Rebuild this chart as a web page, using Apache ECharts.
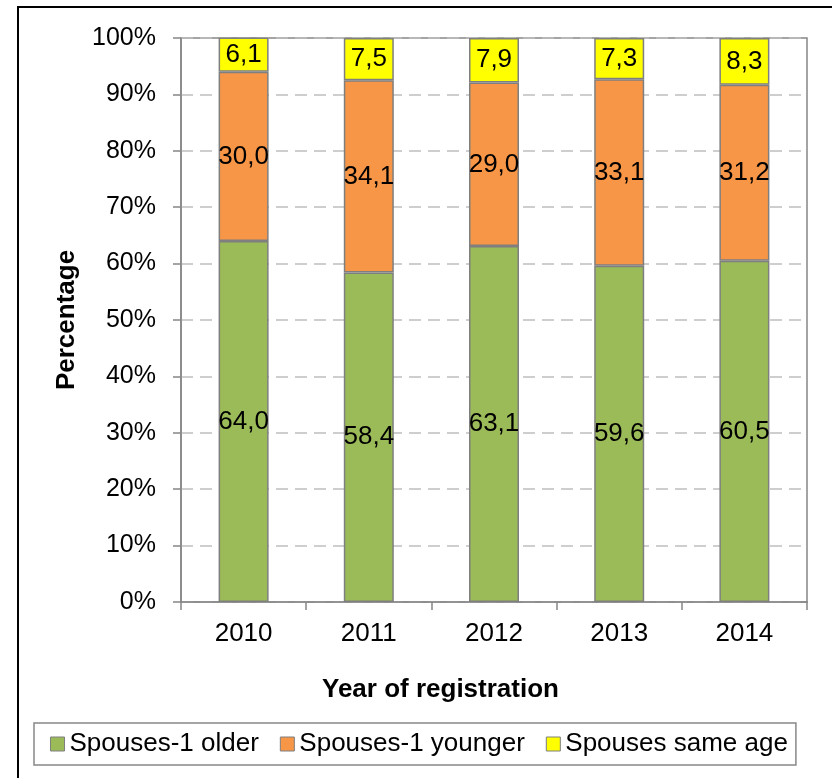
<!DOCTYPE html>
<html>
<head>
<meta charset="utf-8">
<title>Year of registration</title>
<script src="https://cdn.jsdelivr.net/npm/echarts@6/dist/echarts.min.js"></script>
<style>
	html, body { margin: 0; padding: 0; background: #fff; }
	#main { width: 832px; height: 778px; }
</style>
</head>
<body>
<div id="main"></div>
<script>
// 数据
var years = ['2010', '2011', '2012', '2013', '2014'];
var olderVals = [64.0, 58.4, 63.1, 59.6, 60.5];
var youngerVals = [30.0, 34.1, 29.0, 33.1, 31.2];
var sameVals = [6.1, 7.5, 7.9, 7.3, 8.3];
var seriesNames = ['Spouses-1 older', 'Spouses-1 younger', 'Spouses same age'];
var seriesColors = ['#9BBB59', '#F79646', '#FFFF00'];

var font = '"Liberation Sans", Arial, sans-serif';

// 小数点用逗号
function fmtLabel(p) {
	return p.value.toFixed(1).replace('.', ',');
}

function makeSeries(idx, data) {
	return {
		name: seriesNames[idx],
		type: 'bar',
		stack: 'total',
		barWidth: 50,
		data: data,
		itemStyle: {
			color: seriesColors[idx],
			borderColor: '#7F7F7F',
			borderWidth: 1.5
		},
		label: {
			show: true,
			position: 'inside',
			formatter: fmtLabel,
			color: '#000',
			fontSize: 26,
			fontFamily: font
		}
	};
}

var myChart = echarts.init(document.getElementById('main'));
var option = {
	animation: false,
	backgroundColor: '#fff',
	textStyle: { fontFamily: font },
	grid: {
		left: 181,
		right: 25,
		top: 38,
		bottom: 176,
		show: true,
		borderColor: '#868686',
		borderWidth: 1.5
	},
	legend: {
		left: 34,
		top: 723,
		data: seriesNames,
		icon: 'rect',
		itemWidth: 14,
		itemHeight: 14,
		itemGap: 21,
		padding: [8, 8, 8, 16],
		borderColor: '#888',
		borderWidth: 1.5,
		textStyle: { fontSize: 26, color: '#000', fontFamily: font },
		itemStyle: { borderColor: '#7F7F7F', borderWidth: 1 }
	},
	// 外框和x轴标题
	graphic: [
		{
			type: 'rect',
			shape: { x: 18, y: 7, width: 840, height: 800 },
			style: { fill: 'none', stroke: '#000', lineWidth: 2 },
			silent: true
		},
		{
			type: 'text',
			left: 322,
			top: 677,
			style: {
				text: 'Year of registration',
				font: 'bold 26px ' + font,
				fill: '#000'
			}
		}
	],
	xAxis: {
		type: 'category',
		data: years,
		axisLine: { lineStyle: { color: '#868686', width: 1.5 } },
		axisTick: { show: true, length: 8, lineStyle: { color: '#868686', width: 1.5 } },
		axisLabel: { fontSize: 26, color: '#000', margin: 19, fontFamily: font }
	},
	yAxis: {
		type: 'value',
		min: 0,
		max: 100,
		interval: 10,
		name: 'Percentage',
		nameLocation: 'middle',
		nameGap: 101,
		nameRotate: 90,
		nameTextStyle: { fontSize: 26, fontWeight: 'bold', color: '#000', fontFamily: font },
		axisLine: { show: true, lineStyle: { color: '#868686', width: 1.5 } },
		axisTick: { show: true, length: 8, lineStyle: { color: '#868686', width: 1.5 } },
		axisLabel: { fontSize: 25, color: '#000', margin: 25, formatter: '{value}%', fontFamily: font },
		splitLine: {
			show: true,
			lineStyle: { color: '#BFBFBF', width: 1.5, type: [12, 7] }
		}
	},
	series: [
		makeSeries(0, olderVals),
		makeSeries(1, youngerVals),
		makeSeries(2, sameVals)
	]
};
myChart.setOption(option);
</script>
</body>
</html>
